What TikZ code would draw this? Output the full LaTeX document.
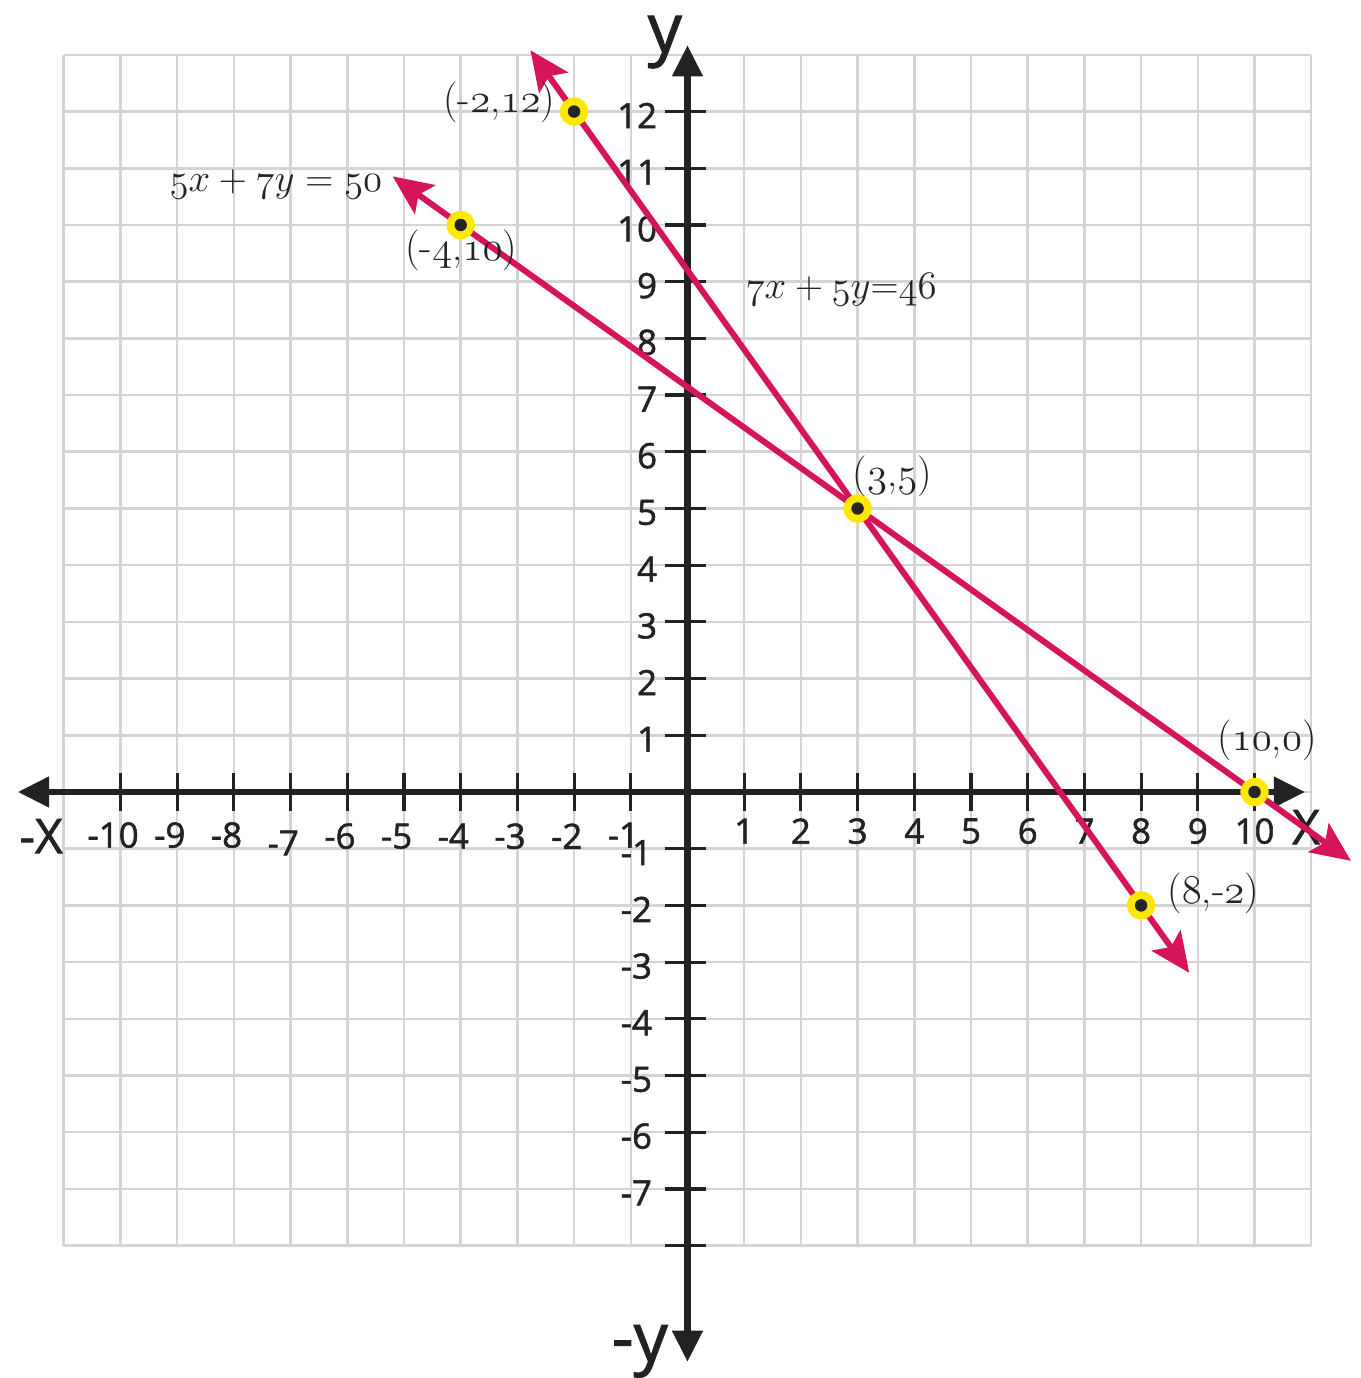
\RequirePackage{fix-cm}
\documentclass[tikz,border=0pt]{standalone}
\usepackage{fontspec}
\setsansfont{Open Sans}
\newfontfamily\tickfont{Open Sans}[FakeBold=1.5]
\usetikzlibrary{arrows.meta}
\definecolor{pinkline}{RGB}{214,20,92}
\definecolor{axisc}{RGB}{34,34,34}
\definecolor{gridc}{RGB}{212,212,212}
\definecolor{ptyellow}{RGB}{255,232,0}
\definecolor{labc}{RGB}{35,35,35}
\newcommand\os[1]{$\mathnormal{#1}$}
\begin{document}
\begin{tikzpicture}[
  gridline/.style={gridc, line width=1.3pt},
  axisline/.style={axisc, line width=3.2pt,
    {Triangle[length=0.55cm,width=0.52cm]}-{Triangle[length=0.55cm,width=0.52cm]}},
  tickline/.style={axisc, line width=1.6pt},
  graphline/.style={pinkline, line width=3pt,
    {Stealth[length=0.7cm,width=0.62cm,inset=0.14cm]}-{Stealth[length=0.7cm,width=0.62cm,inset=0.14cm]}},
  ticklab/.style={font=\tickfont\fontsize{17.5}{20}\selectfont, text=axisc, inner sep=0pt},
  axislab/.style={font=\tickfont\fontsize{24}{28}\selectfont, text=axisc, inner sep=0pt, anchor=base},
  axislaby/.style={font=\tickfont\fontsize{34}{38}\selectfont, text=axisc, inner sep=0pt, anchor=base},
  ptlab/.style={font=\rmfamily\fontsize{20.5}{23}\selectfont, text=labc, inner sep=0pt},
  eqlab/.style={font=\rmfamily\fontsize{19.5}{22}\selectfont, text=labc, inner sep=0pt},
  ptouter/.style={fill=ptyellow},
  ptinner/.style={fill=black!85},
]
\useasboundingbox[fill=white] (-12.125,-10.335) rectangle (11.878,13.968);

% grid
\draw[gridline] (-11,-8) grid (11,13);

% axes
\coordinate (xl) at (-11.81,0);
\coordinate (xr) at (10.89,0);
\coordinate (yb) at (0,-10.05);
\coordinate (yt) at (0,13.17);
\draw[axisline] (xl) -- (xr);
\draw[axisline] (yb) -- (yt);

% ticks
\foreach \x in {-10,...,-1,1,2,...,10}
  \draw[tickline] (\x,-0.34) -- (\x,0.34);
\foreach \y in {-8,...,-1,1,2,...,12}
  \draw[tickline] (-0.4,\y) -- (0.32,\y);

% tick labels
\foreach \x in {1,...,10}
  \node[ticklab] (lx\x) at (\x,-0.69) {\x};
\foreach \x/\dy in {-10/-0.76,-9/-0.76,-8/-0.76,-7/-0.9,-6/-0.78,-5/-0.78,-4/-0.78,-3/-0.78,-2/-0.78,-1/-0.76}
  \node[ticklab] (lxm\x) at (\x-0.13,\dy) {\x};
\foreach \y in {1,...,12}
  \node[ticklab, anchor=east] (ly\y) at (-0.53,\y-0.07) {\y};
\foreach \y in {-7,...,-1}
  \node[ticklab, anchor=east] (lym\y) at (-0.62,\y-0.07) {\y};

% axis names
\node[axislab] (Xr) at (10.91,-0.92) {X};
\node[axislab] (Xl) at (-11.40,-1.08) {-X};
\node[axislaby] (Yt) at (-0.40,13.05) {y};
\node[axislaby] (Yb) at (-0.84,-10.04) {-y};

% lines
\coordinate (A1) at (-2.77,13.08);
\coordinate (B1) at (8.85,-3.19);
\coordinate (A2) at (-5.2,10.857);
\coordinate (B2) at (11.7,-1.214);
\draw[graphline] (A1) -- (B1);
\draw[graphline] (A2) -- (B2);

% points
\foreach \n/\px/\py in {p1/-2/12, p2/-4/10, p3/3/5, p4/10/0, p5/8/-2}{
  \coordinate (\n) at (\px,\py);
  \fill[ptouter] (\n) circle (0.25);
  \fill[ptinner] (\n) circle (0.11);
}

% point labels
\node[ptlab] (t1) at (-3.32,12.17) {(-\os{2},\os{12})};
\node[ptlab] (t2) at (-3.99,9.56) {(-\os{4},\os{10})};
\node[ptlab] (t3) at (3.61,5.56) {(\os{3},\os{5})};
\node[ptlab] (t4) at (10.22,0.92) {(\os{10},\os{0})};
\node[ptlab] (t5) at (9.27,-1.78) {(\os{8},-\os{2})};

% equations
\node[eqlab] (e1) at (-7.26,10.72) {$\mathnormal{5}x+\mathnormal{7}y=\mathnormal{50}$};
\node[eqlab] (e2) at (2.71,8.85) {$\mathnormal{7}x+\mathnormal{5}y{=}\mathnormal{46}$};
\end{tikzpicture}
\end{document}
